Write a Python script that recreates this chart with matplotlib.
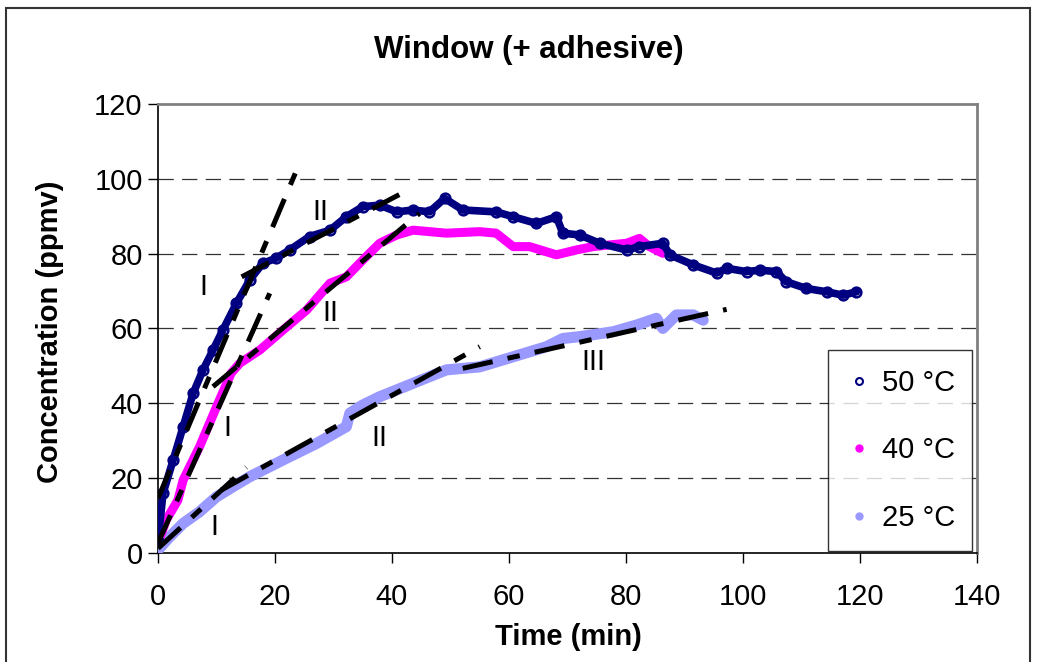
import matplotlib
matplotlib.use('Agg')
import matplotlib.pyplot as plt
from matplotlib.lines import Line2D
from matplotlib.patches import Rectangle

plt.rcParams['font.family'] = ['Liberation Sans', 'DejaVu Sans']
plt.rcParams['lines.scale_dashes'] = False

# 50 degC series
t50 = [0, 0.85, 2.6, 4.3, 6.0, 7.7, 9.4, 11.1, 13.4, 15.7, 17.9, 20.2, 22.5,
       25.9, 29.4, 32.2, 35.0, 37.9, 40.8, 43.6, 46.4, 49.0, 52.1, 57.8,
       60.7, 64.7, 68.1, 69.2, 72.1, 75.5, 80.1, 82.3, 86.3, 87.5, 91.5,
       95.5, 97.2, 100.6, 102.9, 105.7, 107.4, 110.8, 114.3, 117.1, 119.4]
c50 = [3, 15.8, 24.8, 33.7, 42.6, 48.9, 54.2, 59.6, 66.7, 73, 77.4, 78.8, 81,
       84.6, 86.3, 89.9, 92.6, 93.0, 91.2, 91.7, 91.2, 94.8, 91.7, 91.2,
       89.9, 88.1, 89.9, 85.5, 85.0, 82.8, 81.0, 81.9, 82.8, 79.7, 77.0,
       74.8, 76.1, 75.2, 75.6, 75.2, 72.5, 70.7, 69.8, 68.9, 69.8]

# 40 degC series
t40 = [0, 1.4, 3.4, 4.3, 7.1, 10.0, 12.5, 14.0, 17.4, 21.4, 25.4, 29.4, 32.2,
       35.0, 37.9, 40.8, 43.6, 49.3, 55.0, 57.8, 60.7, 63.5, 68.1, 71.5,
       74.4, 80.1, 82.3, 84.0, 86.3]
c40 = [2.5, 8.7, 14, 19.4, 28.3, 39, 48, 50.7, 54.2, 59.6, 64.9, 72.1, 73.8,
       78.3, 82.8, 85, 86.3, 85.5, 85.9, 85.5, 81.9, 81.9, 79.7, 81,
       81.9, 82.8, 84.1, 81.9, 80.1]

# 25 degC series
t25 = [0, 2.0, 4.3, 7.1, 10.0, 12.8, 15.7, 21.4, 27.1, 32.2, 32.8, 35.0,
       37.9, 43.6, 49.3, 55.0, 60.7, 66.4, 69.2, 72.1, 77.8, 81.8, 85.2,
       86.3, 88.6, 91.5, 93.2]
c25 = [0.7, 4.2, 7.8, 10.9, 14.9, 17.6, 20.3, 24.8, 29.2, 33.7, 37.3, 39.5,
       41.7, 45.3, 48.9, 49.7, 52.4, 55.1, 57.3, 57.8, 59.1, 60.9, 62.7,
       60.0, 63.6, 63.6, 62.2]

# linear fits (end points)
fits = [
    ([0, 23.7], [14.5, 102.4]),    # I 50
    ([14.3, 42.2], [73.8, 96.6]),  # II 50
    ([0, 19.1], [2.5, 69.4]),      # I 40
    ([9.4, 44.7], [44.4, 90.8]),   # II 40
    ([0, 15.1], [1.1, 22.8]),      # I 25
    ([10.8, 55.0], [16.7, 55.1]),  # II 25
    ([52.1, 97.2], [49.3, 65.1]),  # III 25
]

# region labels
region_labels = ['I', 'II', 'II', 'I', 'I', 'II', 'III']
region_x = [7.7, 27.8, 29.4, 11.8, 9.6, 37.9, 74.4]
region_y = [71.2, 91.2, 64.0, 33.3, 6.9, 30.6, 51.1]

series_names = ['50 °C', '40 °C', '25 °C']
NAVY = '#000080'
MAGENTA = '#FF00FF'
LILAC = '#9999FF'

fig = plt.figure(figsize=(10.37, 6.62), dpi=100)
ax = fig.add_axes([158 / 1037, 1 - 552.5 / 662, 819 / 1037, 448.2 / 662])

ax.plot(t25, c25, color=LILAC, lw=8, solid_capstyle='round',
        solid_joinstyle='round', zorder=3)
ax.plot(t40, c40, color=MAGENTA, lw=6.5, solid_capstyle='round',
        solid_joinstyle='round', zorder=4)
ax.plot(t50, c50, color=NAVY, lw=5.5, solid_capstyle='round',
        solid_joinstyle='round', zorder=5)
ax.plot(t50, c50, ls='none', marker='o', ms=7, mfc='none', mec=NAVY,
        mew=1.8, zorder=5)

for fx, fy in fits:
    ax.plot(fx, fy, color='black', lw=3.6,
            ls=(0, (22, 11, 9, 11)), zorder=6)

for lab, x, y in zip(region_labels, region_x, region_y):
    ax.text(x, y, lab, fontsize=21, ha='center', va='center', zorder=7)

ax.set_xlim(0, 140)
ax.set_ylim(0, 120)
ax.set_xticks(range(0, 141, 20))
ax.set_yticks(range(0, 121, 20))
ax.tick_params(axis='both', labelsize=21, direction='out', length=7,
               width=1, color='black')
ax.tick_params(axis='x', pad=15)
ax.tick_params(axis='y', pad=4)
for y in range(20, 120, 20):
    ax.axhline(y, color='#333333', lw=0.9, ls=(0, (11, 6)), zorder=1)
ax.spines['left'].set_linewidth(1.2)
ax.spines['bottom'].set_linewidth(1.2)
ax.spines['top'].set_color('#808080')
ax.spines['right'].set_color('#808080')
ax.spines['top'].set_linewidth(2)
ax.spines['right'].set_linewidth(2)

handles = [
    Line2D([], [], ls='none', marker='o', ms=5, mfc='none', mec=NAVY, mew=1.5),
    Line2D([], [], ls='none', marker='o', ms=5, color=MAGENTA),
    Line2D([], [], ls='none', marker='o', ms=5, color=LILAC),
]
leg = ax.legend(handles, series_names, loc='lower left',
                bbox_to_anchor=(0.818, 0.004, 0.176, 0.463), mode='expand',
                fontsize=21, frameon=True, fancybox=False, borderpad=0.65,
                labelspacing=1.35, handlelength=0.8, handletextpad=0.4,
                borderaxespad=0)
leg.get_frame().set_edgecolor('black')
leg.get_frame().set_linewidth(1)
leg.set_zorder(10)

fig.text(0.51, 1 - 50 / 662, 'Window (+ adhesive)', fontsize=22.5,
         fontweight='bold', ha='center', va='center')
fig.text(568 / 1037, 1 - 637 / 662, 'Time (min)', fontsize=21,
         fontweight='bold', ha='center', va='center')
fig.text(50 / 1037, 1 - 332 / 662, 'Concentration (ppmv)', fontsize=21,
         fontweight='bold', ha='center', va='center', rotation=90)

fig.patches.append(Rectangle((6 / 1037, -0.05), 1024 / 1037, 1 - 8 / 662 + 0.05,
                             transform=fig.transFigure, fill=False,
                             edgecolor='#333333', lw=1.5))

fig.savefig('out.png', dpi=100)
